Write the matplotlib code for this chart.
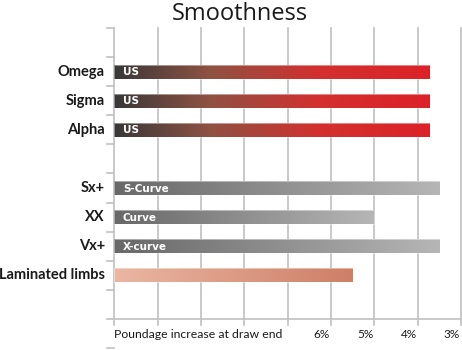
import numpy as np
import matplotlib
matplotlib.use("Agg")
import matplotlib.pyplot as plt
from matplotlib.colors import LinearSegmentedColormap
from matplotlib.patches import Rectangle

# Datos
categorias = ["Omega", "Sigma", "Alpha", "Sx+", "XX", "Vx+", "Laminated limbs"]
filas = [1.5, 2.5, 3.5, 5.5, 6.5, 7.5, 8.5]
valores = [7.28, 7.28, 7.28, 7.51, 6.0, 7.51, 5.51]
etiquetas_barra = ["US", "US", "US", "S-Curve", "Curve", "X-curve", ""]
grupos = ["rojo", "rojo", "rojo", "gris", "gris", "gris", "lam"]
ticks_x = [5, 6, 7, 8]
ticks_txt = ["6%", "5%", "4%", "3%"]

mapas = {
    "rojo": LinearSegmentedColormap.from_list(
        "rojo", [(0, "#383838"), (0.3, "#8e5243"), (0.65, "#d3302f"), (1, "#dc2229")]),
    "gris": LinearSegmentedColormap.from_list("gris", ["#686868", "#b6b6b6"]),
    "lam": LinearSegmentedColormap.from_list("lam", ["#eab7a2", "#ce7f67"]),
}

fig = plt.figure(figsize=(4.62, 3.5), dpi=100)
ax = fig.add_axes([114.3 / 462, 2 / 350, (461 - 114.3) / 462, 320 / 350])
ax.set_xlim(0, 8)
ax.set_ylim(11, 0)
ax.axis("off")

# Rejilla
for x in range(9):
    ax.plot([x, x], [0, 10.2], color="#c0c0c0", lw=1.2, zorder=1, clip_on=False)
ax.plot([-0.16, 8], [10, 10], color="#c0c0c0", lw=1.2, zorder=1, clip_on=False)
for y in list(range(10)) + [11]:
    ax.plot([-0.16, 0], [y, y], color="#c0c0c0", lw=1.2, zorder=1, clip_on=False)

alto = 0.48
grad = np.linspace(0, 1, 256).reshape(1, -1)
for fila, val, txt, g in zip(filas, valores, etiquetas_barra, grupos):
    ext = [0, val, fila + alto / 2, fila - alto / 2]
    im = ax.imshow(grad, cmap=mapas[g], aspect="auto", extent=ext, zorder=2,
                   interpolation="bilinear")
    rect = Rectangle((0, fila - alto / 2), val, alto, facecolor="none",
                     edgecolor="white", lw=0.6, alpha=0.5, zorder=3)
    ax.add_patch(rect)
    im.set_clip_path(rect)
    if txt:
        ax.text(0.2, fila + 0.02, txt, color="white", fontsize=7.5, fontweight="bold",
                family="DejaVu Sans", va="center", ha="left", zorder=4)

for cat, fila in zip(categorias, filas):
    ax.text(-0.22, fila, cat, ha="right", va="center", fontsize=10.5,
            fontweight="bold", family="Lato", color="#1a1a1a")

for x, t in zip(ticks_x, ticks_txt):
    ax.text(x - 0.02, 10.55, t, ha="right", va="center", fontsize=8.5,
            family="Lato", color="#1a1a1a")
ax.text(0.0, 10.55, "Poundage increase at draw end", ha="left", va="center",
        fontsize=8.8, family="Lato", color="#1a1a1a")

fig.text(240 / 462, 1 - 14 / 350, "Smoothness", ha="center", va="center",
         fontsize=17, family="Open Sans", color="#1a1a1a")

fig.savefig("out.png", dpi=100)
